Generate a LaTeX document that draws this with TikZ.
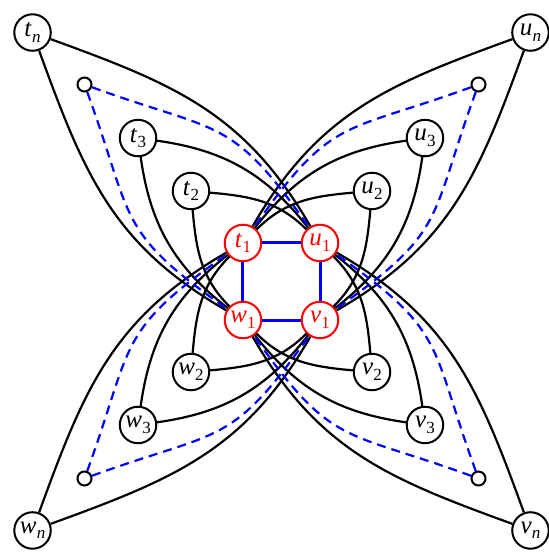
\documentclass[tikz,border=0pt]{standalone}
\usepackage{fontspec}
\setmainfont{Liberation Serif}
\newcommand\lbl[2]{\textit{#1}\kern0.3pt\raisebox{-5.5pt}{\fontsize{17}{17}\selectfont #2}}
\begin{document}
\begin{tikzpicture}[x=1pt,y=1pt,
  vtx/.style={circle,draw,line width=2pt,minimum size=36.5pt,inner sep=0pt,font=\fontsize{25}{29}\selectfont},
  cvtx/.style={vtx,draw=red,text=red},
  smalldot/.style={circle,draw,line width=2pt,minimum size=14pt,inner sep=0pt},
  edgeline/.style={line width=2.2pt},
  dashedge/.style={blue,line width=2.2pt,dash pattern=on 9pt off 6pt},
  sqedge/.style={blue,line width=3pt}]
\useasboundingbox (-281.5,-270.5) rectangle (267.5,281.5);
% central square
\node[cvtx] (t1) at (135:54.45) {\lbl{t}{1}};
\node[cvtx] (u1) at (45:54.45) {\lbl{u}{1}};
\node[cvtx] (v1) at (-45:54.45) {\lbl{v}{1}};
\node[cvtx] (w1) at (-135:54.45) {\lbl{w}{1}};
% petal nodes
\foreach \p/\r in {t/0, u/-90, v/-180, w/-270} {
  \pgfmathsetmacro\ang{135+\r}
  \node[vtx] (\p n) at (\ang:352.1) {\lbl{\p}{\textit{n}}};
  \node[smalldot] (\p s) at (\ang:278.6) {};
  \node[vtx] (\p 3) at (\ang:202.9) {\lbl{\p}{3}};
  \node[vtx] (\p 2) at (\ang:128) {\lbl{\p}{2}};
}
% black petal edges
\foreach \p/\r/\cw/\ccw in {t/0/u/w, u/-90/v/t, v/-180/w/u, w/-270/t/v} {
  \pgfmathsetmacro\oa{\r-20}\pgfmathsetmacro\ia{\r+120}
  \pgfmathsetmacro\ob{\r+290}\pgfmathsetmacro\ib{\r+150}
  \draw[edgeline] (\p n) to[out=\oa,in=\ia,looseness=1.05] (\cw 1);
  \draw[edgeline] (\p n) to[out=\ob,in=\ib,looseness=1.05] (\ccw 1);
  \pgfmathsetmacro\oa{\r-8}\pgfmathsetmacro\ia{\r+128}
  \pgfmathsetmacro\ob{\r+278}\pgfmathsetmacro\ib{\r+142}
  \draw[edgeline] (\p 3) to[out=\oa,in=\ia] (\cw 1);
  \draw[edgeline] (\p 3) to[out=\ob,in=\ib] (\ccw 1);
  \pgfmathsetmacro\oa{\r-5}\pgfmathsetmacro\ia{\r+135}
  \pgfmathsetmacro\ob{\r+275}\pgfmathsetmacro\ib{\r+135}
  \draw[edgeline] (\p 2) to[out=\oa,in=\ia] (\cw 1);
  \draw[edgeline] (\p 2) to[out=\ob,in=\ib] (\ccw 1);
}
% dashed petal edges
\foreach \p/\r/\cw/\ccw in {t/0/u/w, u/-90/v/t, v/-180/w/u, w/-270/t/v} {
  \pgfmathsetmacro\oa{\r-20}\pgfmathsetmacro\ia{\r+125}
  \pgfmathsetmacro\ob{\r+290}\pgfmathsetmacro\ib{\r+145}
  \draw[dashedge] (\p s) to[out=\oa,in=\ia,looseness=1.35] (\cw 1);
  \draw[dashedge] (\p s) to[out=\ob,in=\ib,looseness=1.35] (\ccw 1);
}
% square edges
\draw[sqedge] (t1) -- (u1);
\draw[sqedge] (u1) -- (v1);
\draw[sqedge] (v1) -- (w1);
\draw[sqedge] (w1) -- (t1);
\end{tikzpicture}
\end{document}
